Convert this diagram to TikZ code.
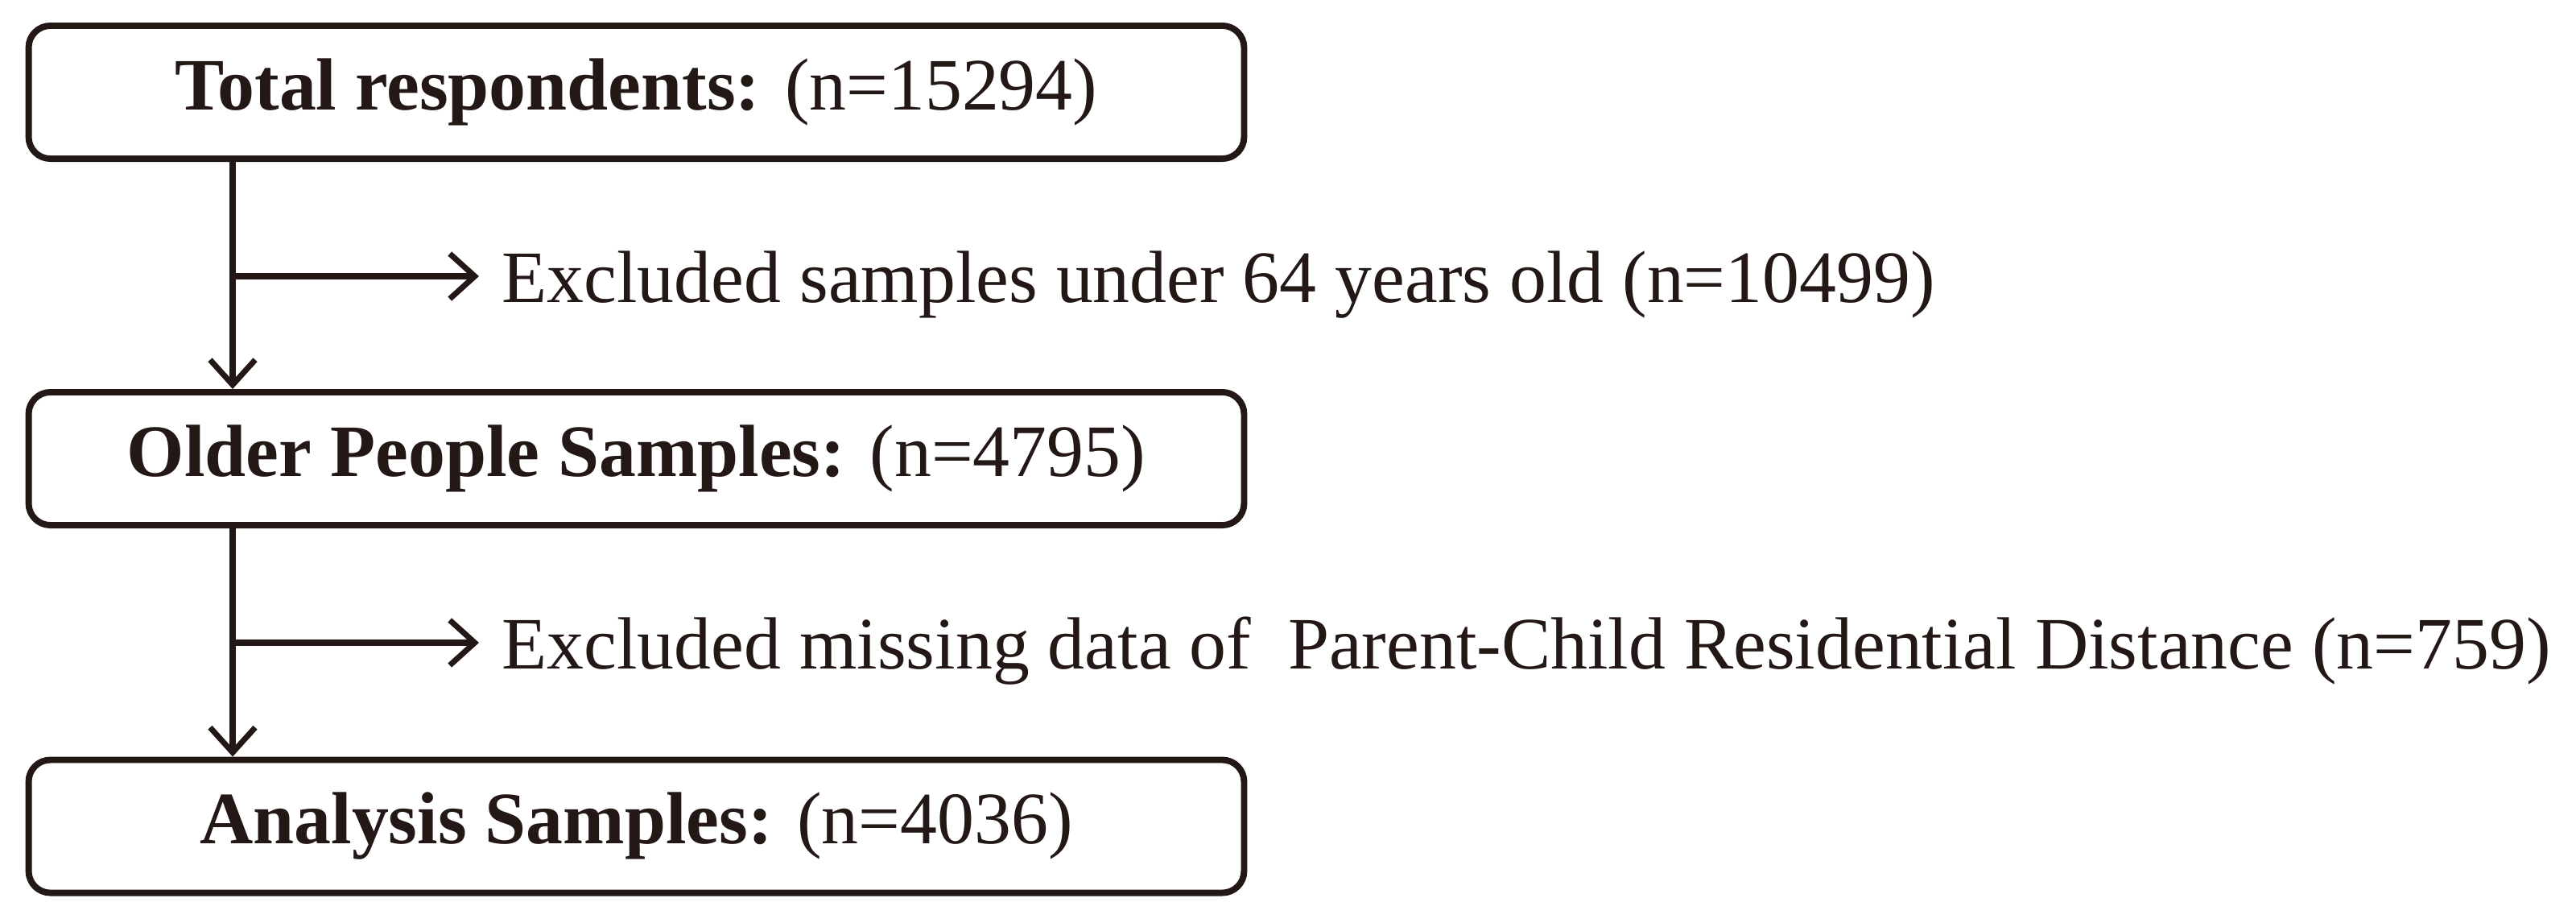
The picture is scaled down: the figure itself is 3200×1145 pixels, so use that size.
\documentclass[tikz,border=0pt]{standalone}
\usepackage{fontspec}
\setmainfont{Liberation Serif}
\usetikzlibrary{arrows.meta}
\definecolor{ink}{HTML}{231815}
\begin{document}
\begin{tikzpicture}[x=0.01cm,y=-0.01cm,
  box/.style={draw=ink,line width=2.25pt,rounded corners=0.27cm,minimum width=15.09cm,minimum height=1.65cm,inner sep=0pt,text=ink,font=\fontsize{26.1}{30}\selectfont},
  excl/.style={anchor=base west,inner sep=0pt,text=ink,font=\fontsize{26.1}{30}\selectfont},
  conn/.style={draw=ink,line width=2pt,-{Straight Barb[length=0.31cm,width=0.56cm,line width=2pt]}}]
\useasboundingbox[fill=white] (0,0) rectangle (3200,1145);
\node[box] (b1) at (790.5,114.5) {\textbf{Total respondents:} (n=15294)};
\node[box] (b2) at (790.5,569.5) {\textbf{Older People Samples:} (n=4795)};
\node[box] (b3) at (790.5,1026) {\textbf{Analysis Samples:} (n=4036)};
\coordinate (c) at (289,0);
\coordinate (j1) at (289,343);
\coordinate (j2) at (289,798);
\node[excl] (e1) at (623,375) {Excluded samples under 64 years old (n=10499)};
\node[excl] (e2) at (623,830) {Excluded missing data of\ \ Parent-Child Residential Distance (n=759)};
\coordinate (t1) at (595,343);
\coordinate (t2) at (595,798);
\draw[conn] (b1.south -| c) -- (b2.north -| c);
\draw[conn] (b2.south -| c) -- (b3.north -| c);
\draw[conn] (j1) -- (t1);
\draw[conn] (j2) -- (t2);
\end{tikzpicture}
\end{document}
